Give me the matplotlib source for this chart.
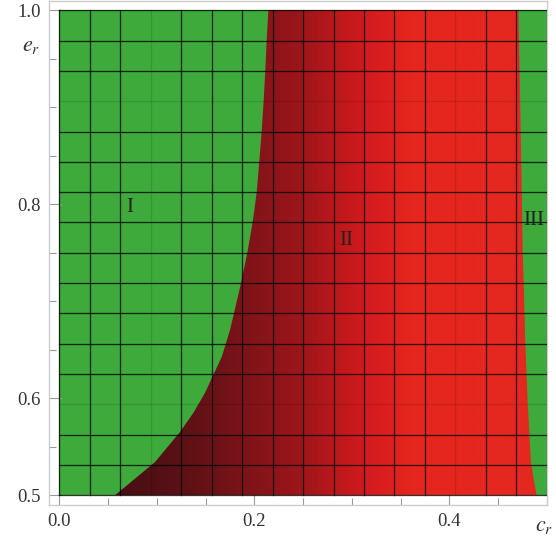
import numpy as np
import matplotlib.pyplot as plt
from matplotlib.patches import Polygon
from matplotlib.colors import to_rgb

# Boundary between region I and II (x as a function of e_r)
left_y = [0.5, 0.5343, 0.5653, 0.5848, 0.6055, 0.6240, 0.6426, 0.6704, 0.6879,
          0.7189, 0.7498, 0.7818, 0.8127, 0.8436, 0.8756, 0.9065, 0.9375, 0.96875, 1.0]
left_x = [0.0571, 0.0982, 0.1238, 0.1374, 0.1494, 0.1579, 0.1666, 0.1751, 0.1792,
          0.1864, 0.1928, 0.1984, 0.2025, 0.2051, 0.2076, 0.2096, 0.2113, 0.2127, 0.2144]

# Boundary between region II and III
right_y = [0.5, 0.5106, 0.5333, 0.5952, 0.6570, 0.7189, 0.7498, 0.8130, 0.8748, 0.9694, 1.0]
right_x = [0.4896, 0.4876, 0.4838, 0.4804, 0.4779, 0.4763, 0.4753, 0.4743, 0.4732, 0.4715, 0.4708]

# colour of region II along c_r
grad_x = [0.05, 0.10, 0.15, 0.20, 0.25, 0.30, 0.33, 0.36, 0.50]
grad_r = [70, 82, 102, 130, 158, 200, 218, 228, 228]
grad_g = [14, 16, 18, 20, 22, 25, 30, 38, 40]
grad_b = [20, 21, 23, 25, 26, 28, 30, 30, 32]

green = '#3daa3b'

# mesh lines
mesh_x = np.linspace(0.0, 0.5, 17)
mesh_y = np.linspace(0.5, 1.0, 17)
faint_x = [3, 13]
faint_y = [3, 13]

region_labels = ['I', 'II', 'III']
label_pos = [(0.0727, 0.797), (0.2941, 0.763), (0.4862, 0.7838)]

x_major = [0.0, 0.2, 0.4]
y_major = [0.5, 0.6, 0.8, 1.0]
minor_step = 0.05

plt.rcParams['font.family'] = ['Liberation Serif', 'DejaVu Serif']
plt.rcParams['mathtext.fontset'] = 'stix'

W, H = 556, 542
fig = plt.figure(figsize=(W / 100, H / 100), dpi=100)
ax = fig.add_axes([49 / W, (H - 505) / H, 498 / W, 504 / H])

x0, x1, y0, y1 = 0.0, 0.5, 0.5, 1.0
ax.set_xlim(-0.01056, 0.5002)
ax.set_ylim(0.49, 1.00959)

# green background
ax.fill_between([x0, x1], y0, y1, color=green, lw=0, zorder=1)

# red gradient clipped to region II
xs = np.linspace(x0, x1, 600)
rgb = np.stack([np.interp(xs, grad_x, grad_r),
                np.interp(xs, grad_x, grad_g),
                np.interp(xs, grad_x, grad_b)], axis=-1) / 255.0
img = np.repeat(rgb[None, :, :], 4, axis=0)
im = ax.imshow(img, extent=[x0, x1, y0, y1], aspect='auto', origin='lower',
               interpolation='bilinear', zorder=2)
poly_pts = list(zip(left_x, left_y)) + list(zip(right_x, right_y))[::-1]
poly = Polygon(poly_pts, closed=True, transform=ax.transData, facecolor='none', edgecolor='none')
ax.add_patch(poly)
im.set_clip_path(poly)

# mesh
for i, xv in enumerate(mesh_x):
    a = 0.12 if i in faint_x else 0.8
    ax.plot([xv, xv], [y0, y1], color='black', lw=0.9, alpha=a, zorder=3)
for i, yv in enumerate(mesh_y):
    a = 0.12 if i in faint_y else 0.8
    ax.plot([x0, x1], [yv, yv], color='black', lw=0.9, alpha=a, zorder=3)

for lab, (lx, ly) in zip(region_labels, label_pos):
    ax.text(lx, ly, lab, fontsize=15, color='#222222', ha='center', va='center', zorder=4)

# frame / ticks
for s in ax.spines.values():
    s.set_color('#cccccc')
    s.set_linewidth(1.0)
ax.set_xticks(x_major)
ax.set_xticklabels(['%.1f' % v for v in x_major])
ax.set_yticks(y_major)
ax.set_yticklabels(['%.1f' % v for v in y_major])
ax.set_xticks([v for v in np.arange(0.05, 0.501, minor_step) if min(abs(v - m) for m in x_major) > 1e-6], minor=True)
ax.set_yticks([v for v in np.arange(0.55, 0.951, minor_step) if min(abs(v - m) for m in y_major) > 1e-6], minor=True)
ax.tick_params(which='both', direction='in', color='#999999', labelsize=13.5, labelcolor='#333333',
               top=False, right=False)
ax.tick_params(which='major', length=9, width=0.8, pad=6)
ax.tick_params(which='minor', length=5, width=0.8)

fig.text(31 / W, 1 - 46 / H, '$e_r$', fontsize=16, color='#333333', ha='center', va='center')
fig.text(544 / W, 1 - 527 / H, '$c_r$', fontsize=16, color='#333333', ha='center', va='center')

fig.savefig('out.png', dpi=100)
